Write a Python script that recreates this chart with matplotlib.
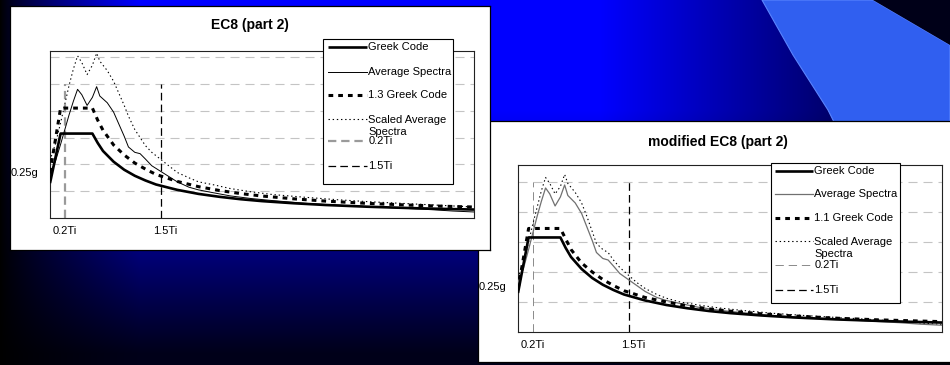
import numpy as np
import matplotlib
matplotlib.use("Agg")
import matplotlib.pyplot as plt
from matplotlib.patches import Polygon, Rectangle
from matplotlib.lines import Line2D

plt.rcParams["font.family"] = ["Liberation Sans", "DejaVu Sans"]
plt.rcParams["lines.scale_dashes"] = False

W, H = 950, 365

# response spectra (period T in s, Sa in g)
T_GC = [0.00, 0.10, 0.40, 0.45, 0.50, 0.60, 0.70, 0.80, 0.90, 1.00, 1.20,
        1.40, 1.60, 1.80, 2.00, 2.30, 2.60, 3.00, 3.40, 3.70, 4.00]
GREEK_CODE = [0.26, 0.63, 0.63, 0.56, 0.50, 0.42, 0.36, 0.315, 0.28, 0.25, 0.21,
              0.18, 0.158, 0.14, 0.126, 0.11, 0.097, 0.084, 0.074, 0.068, 0.063]
GREEK_CODE_13 = [0.34, 0.82, 0.82, 0.73, 0.655, 0.545, 0.47, 0.41, 0.365, 0.325, 0.273,
                 0.234, 0.205, 0.182, 0.164, 0.143, 0.126, 0.109, 0.096, 0.088, 0.082]
GREEK_CODE_11 = [0.286, 0.69, 0.69, 0.62, 0.55, 0.46, 0.40, 0.35, 0.31, 0.275, 0.23,
                 0.20, 0.174, 0.154, 0.139, 0.121, 0.107, 0.092, 0.081, 0.075, 0.069]

T_AVG = [0.00, 0.05, 0.10, 0.14, 0.18, 0.22, 0.26, 0.30, 0.35, 0.40, 0.44, 0.47,
         0.54, 0.60, 0.65, 0.70, 0.74, 0.80, 0.85, 0.90, 0.96, 1.04, 1.12, 1.20,
         1.31, 1.40, 1.53, 1.70, 1.90, 2.10, 2.40, 2.70, 3.00, 3.30, 3.60, 3.80, 4.00]
AVG_SPECTRA = [0.33, 0.42, 0.55, 0.66, 0.77, 0.87, 0.96, 0.92, 0.84, 0.90, 0.98, 0.91,
               0.86, 0.79, 0.70, 0.61, 0.53, 0.49, 0.48, 0.44, 0.39, 0.35, 0.31, 0.27,
               0.23, 0.21, 0.19, 0.165, 0.145, 0.13, 0.11, 0.096, 0.085, 0.074, 0.062, 0.052, 0.045]
SCALED_AVG_13 = [0.43, 0.55, 0.71, 0.85, 0.99, 1.11, 1.21, 1.16, 1.07, 1.14, 1.23, 1.17,
                 1.10, 1.02, 0.93, 0.84, 0.76, 0.66, 0.60, 0.54, 0.49, 0.44, 0.39, 0.34,
                 0.30, 0.27, 0.25, 0.22, 0.195, 0.175, 0.155, 0.137, 0.122, 0.11, 0.098, 0.09, 0.082]
SCALED_AVG_11 = [0.36, 0.46, 0.60, 0.72, 0.83, 0.94, 1.03, 0.99, 0.92, 0.97, 1.05, 0.99,
                 0.93, 0.86, 0.77, 0.67, 0.59, 0.55, 0.53, 0.48, 0.43, 0.38, 0.33, 0.29,
                 0.25, 0.225, 0.20, 0.18, 0.16, 0.145, 0.125, 0.11, 0.097, 0.085, 0.07, 0.06, 0.05]

VLINE_T = [0.14, 1.05]          # 0.2Ti, 1.5Ti
VLINE_TOP = 1.0
XLAB_T = [0.14, 1.085]
XLABELS = ["0.2Ti", "1.5Ti"]

# pixel geometry (left, top, width, height)
BOX1, PLOT1 = (10, 6, 480, 244), (50, 51, 424, 167)
BOX2, PLOT2 = (478, 121, 473, 241), (518, 165, 424, 167)

GC = dict(color="black", lw=1.9, solid_capstyle="butt")
GCX = dict(color="black", lw=2.2, ls=(0, (3.4, 3.6)), dash_capstyle="butt")
SCL = dict(color="black", lw=0.8, ls=(0, (1.0, 2.0)))
TI15 = dict(color="black", lw=0.9, ls=(0, (5.5, 3.0)))


def rect(p):
    l, t, w, h = p
    return [l / W, 1 - (t + h) / H, w / W, h / H]


def frac(p, px, py):
    l, t, w, h = p
    return (px - l) / w, (t + h - py) / h


def background(fig):
    ax = fig.add_axes([0, 0, 1, 1], zorder=0)
    x = np.arange(W)[None, :]
    y = np.arange(H)[:, None]
    b = np.clip(x / 140, 0, 1) ** 0.8 * np.clip(1 - (x - 600) / 400, 0.35, 1) \
        * np.clip(1 - (y - 110) / 270, 0.1, 1)
    img = np.zeros((H, W, 3))
    img[..., 2] = b
    ax.imshow(img, extent=(0, W, H, 0), aspect="auto")
    ax.add_patch(Polygon([(762, 0), (793, 55), (828, 110), (838, 130), (950, 130),
                          (950, 45), (873, 0)], closed=True, facecolor="#305ff0",
                         edgecolor="#5a85ff", lw=0.8))
    ax.add_patch(Polygon([(873, 0), (950, 0), (950, 45)], closed=True,
                         facecolor="#000018", edgecolor="none"))
    ax.set_xlim(0, W); ax.set_ylim(H, 0)
    ax.axis("off")


def box(fig, p, title, title_xy, z):
    ax = fig.add_axes(rect(p), zorder=z)
    ax.set_xticks([]); ax.set_yticks([])
    for s in ax.spines.values():
        s.set_color("black"); s.set_linewidth(0.9)
    tx, ty = frac(p, *title_xy)
    ax.text(tx, ty, title, transform=ax.transAxes, ha="center", va="center",
            fontsize=10, fontweight="bold", color="black")


def chart(fig, p, ymax, gc_x, scaled, avg_style, ti02_style, legend_rows, leg_px, z):
    ax = fig.add_axes(rect(p), zorder=z)
    ax.set_xlim(0, 4); ax.set_ylim(0, ymax)
    grid_y = [v / 10 for v in range(2, int(ymax * 10) + 1, 2)]
    for g in grid_y:
        ax.axhline(g, color="#c4c4c4", lw=0.8, ls=(0, (6.5, 4.3)), zorder=1)
    ax.plot([VLINE_T[0]] * 2, [0, VLINE_TOP], zorder=2, **ti02_style)
    ax.plot([VLINE_T[1]] * 2, [0, VLINE_TOP], zorder=2, **TI15)
    ax.plot(T_AVG, scaled, zorder=3, **SCL)
    ax.plot(T_AVG, AVG_SPECTRA, zorder=3, **avg_style)
    ax.plot(T_GC, gc_x, zorder=4, **GCX)
    ax.plot(T_GC, GREEK_CODE, zorder=5, **GC)
    ax.set_yticks([])
    ax.set_xticks(XLAB_T, XLABELS)
    ax.tick_params(axis="x", length=0, pad=6, labelsize=8)
    for s in ax.spines.values():
        s.set_color("#222222"); s.set_linewidth(0.8)
    ax.text(-0.028, 0.272, "0.25g", transform=ax.transAxes, ha="right",
            va="center", fontsize=8)

    # legend box drawn as in the slide (entries overlap slightly)
    x0, y1 = frac(p, leg_px[0], leg_px[1])
    x1, y0 = frac(p, leg_px[2], leg_px[3])
    ax.add_patch(Rectangle((x0, y0), x1 - x0, y1 - y0, transform=ax.transAxes,
                           facecolor="white", edgecolor="black", lw=0.8,
                           zorder=10, clip_on=False))
    hx0, _ = frac(p, leg_px[4], 0)
    hx1, _ = frac(p, leg_px[5], 0)
    for label, hy, ty, style in legend_rows:
        _, fy = frac(p, 0, hy)
        _, fty = frac(p, 0, ty)
        ax.add_line(Line2D([hx0, hx1], [fy, fy], transform=ax.transAxes,
                           zorder=11, clip_on=False, **style))
        ax.text(hx1 + 0.003, fty, label, transform=ax.transAxes, ha="left",
                va="center", fontsize=8, zorder=12, linespacing=1.15)
    return ax


fig = plt.figure(figsize=(W / 100, H / 100), dpi=100)
background(fig)

# modified EC8 (lower right, behind)
box(fig, BOX2, "modified EC8 (part 2)", (718, 142), 1)
avg2 = dict(color="#707070", lw=0.9)
ti02_2 = dict(color="#8a8a8a", lw=0.7, ls=(0, (6.0, 3.5)))
rows2 = [("Greek Code", 171, 171, GC),
         ("Average Spectra", 194, 194, avg2),
         ("1.1 Greek Code", 218, 218, GCX),
         ("Scaled Average\nSpectra", 241, 248, SCL),
         ("0.2Ti", 265, 265, ti02_2),
         ("1.5Ti", 290, 290, TI15)]
chart(fig, PLOT2, 1.113, GREEK_CODE_11, SCALED_AVG_11, avg2, ti02_2, rows2,
      (771, 163, 900, 303, 775, 813), 2)

# EC8 (upper left, in front)
box(fig, BOX1, "EC8 (part 2)", (250, 25), 3)
avg1 = dict(color="black", lw=0.7)
ti02_1 = dict(color="#9a9a9a", lw=1.6, ls=(0, (6.0, 3.5)), dash_capstyle="butt")
rows1 = [("Greek Code", 47, 47, GC),
         ("Average Spectra", 72, 72, avg1),
         ("1.3 Greek Code", 95, 95, GCX),
         ("Scaled Average\nSpectra", 119, 126, SCL),
         ("0.2Ti", 141, 141, ti02_1),
         ("1.5Ti", 166, 166, TI15)]
chart(fig, PLOT1, 1.246, GREEK_CODE_13, SCALED_AVG_13, avg1, ti02_1, rows1,
      (323, 39, 453, 184, 328, 367), 4)

fig.savefig("out.png", dpi=100)
